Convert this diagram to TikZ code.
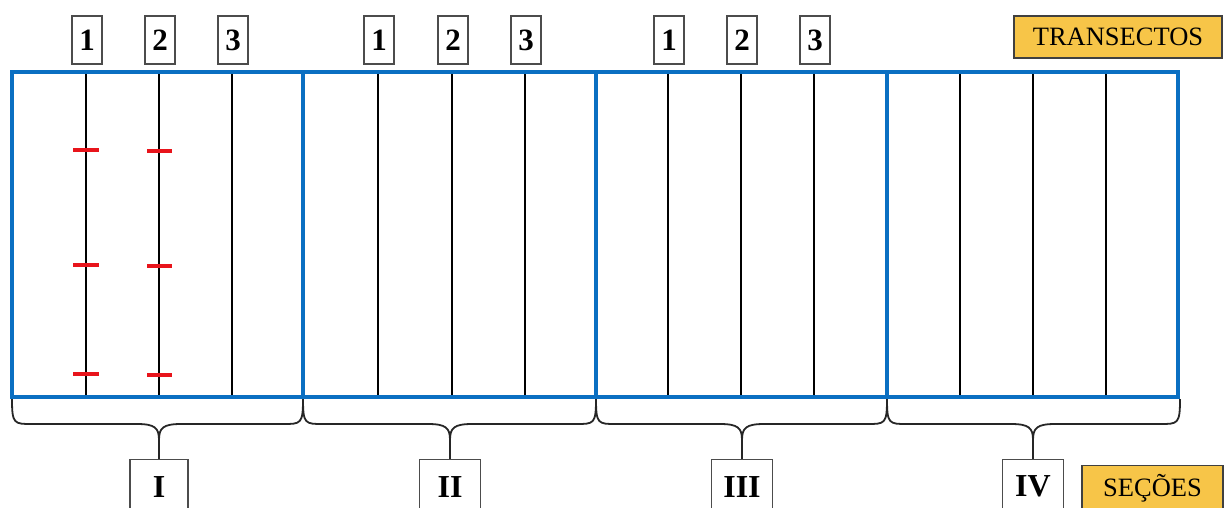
\documentclass[tikz,border=0pt]{standalone}
\usepackage{fontspec}
\setmainfont{Liberation Serif}
\definecolor{frameblue}{HTML}{0A6FC2}
\definecolor{gold}{HTML}{F7C548}
\definecolor{tickred}{HTML}{E8141B}
\begin{document}
\begin{tikzpicture}[x=1pt,y=-1pt,
  numbox/.style={draw=black!70, line width=1.2pt, minimum width=30pt, minimum height=48pt, inner sep=0pt, fill=white, font=\fontsize{31}{36}\selectfont\bfseries},
  romanbox/.style={draw=black!70, line width=1.2pt, minimum width=60pt, minimum height=54pt, inner sep=0pt, anchor=north, fill=white, font=\fontsize{32}{36}\selectfont\bfseries},
  tagbox/.style={draw=black!75, line width=1.2pt, fill=gold, inner sep=0pt, font=\fontsize{26.5}{30}\selectfont},
  transect/.style={black, line width=2.6pt},
  frame/.style={draw=frameblue, line width=4pt},
  redtick/.style={tickred, line width=3.6pt},
  bracestyle/.style={black!85, line width=1.8pt}]
\useasboundingbox (0,0) rectangle (1225,507);
\clip (0,0) rectangle (1225,507);

% transect lines
\foreach \x [count=\i] in {86,159,232,378,452,525,668,741,814,960,1033,1106}{
  \coordinate (t\i a) at (\x,72);
  \coordinate (t\i b) at (\x,397);
  \draw[transect] (t\i a) -- (t\i b);
}

% red marks
\foreach \yy in {150,265,374}{
  \draw[redtick] (73,\yy) -- (99,\yy);
  \draw[redtick] (147,\yy+1) -- (172,\yy+1);
}

% sections frame
\foreach \xa/\xb [count=\s] in {12/303,303/596,596/887,887/1178}{
  \coordinate (s\s nw) at (\xa,72);
  \coordinate (s\s se) at (\xb,397);
  \draw[frame] (s\s nw) rectangle (s\s se);
}

% transect number boxes
\foreach \x/\n [count=\i] in {86/1,159/2,232/3,378/1,452/2,525/3,668/1,741/2,814/3}{
  \node[numbox] (n\i) at (\x+1,40) {\n};
}

% tag boxes
\node[tagbox, minimum width=208pt, minimum height=42pt] (transectos) at (1118,37) {TRANSECTOS};
\node[tagbox, minimum width=141pt, minimum height=45pt, anchor=north] (secoes) at (1152.5,465) {\raisebox{-2pt}{SEÇÕES}};

% roman boxes
\node[romanbox, minimum width=58pt] (rI) at (159,459) {I};
\node[romanbox, minimum width=61pt] (rII) at (450,459) {II};
\node[romanbox, minimum width=61pt] (rIII) at (742,459) {III};
\node[romanbox, minimum width=61pt] (rIV) at (1033,459) {IV};

% braces
\foreach \xa/\xb/\xm/\r [count=\s] in {12/303/159/rI,303/596/450/rII,596/887/742/rIII,887/1180/1033/rIV}{
  \draw[bracestyle] (\xa,399) .. controls (\xa,424) and (\xa+2,424) .. (\xa+20,424)
    -- (\xm-22,424) .. controls (\xm-4,424) and (\xm,428) .. (\xm,440)
    .. controls (\xm,428) and (\xm+4,424) .. (\xm+22,424)
    -- (\xb-20,424) .. controls (\xb-2,424) and (\xb,424) .. (\xb,399);
  \draw[bracestyle] (\xm,440) -- (\r.north);
}
\end{tikzpicture}
\end{document}
